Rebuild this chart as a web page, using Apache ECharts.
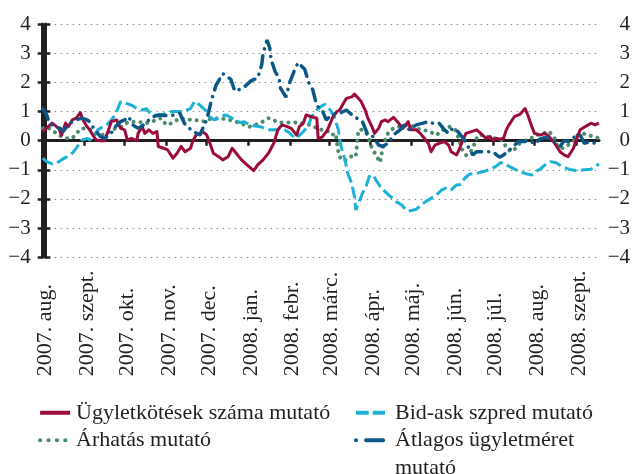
<!DOCTYPE html>
<html><head><meta charset="utf-8">
<script src="https://cdn.jsdelivr.net/npm/echarts@6/dist/echarts.min.js"></script>
<style>html,body{margin:0;padding:0;background:#fff}#c{width:633px;height:474px}</style>
</head><body><div id="c"></div>
<script>
// ---- data ----
const startDate = '2007-08-01';
const endDate = '2008-09-18';
const monthStarts = ['2007-08-01','2007-09-01','2007-10-01','2007-11-01','2007-12-01','2008-01-01','2008-02-01','2008-03-01','2008-04-01','2008-05-01','2008-06-01','2008-07-01','2008-08-01','2008-09-01'];
const monthLabels = ['2007. aug.','2007. szept.','2007. okt.','2007. nov.','2007. dec.','2008. jan.','2008. febr.','2008. márc.','2008. ápr.','2008. máj.','2008. jún.','2008. júl.','2008. aug.','2008. szept.'];
const seriesNames = ['Ügyletkötések száma mutató','Bid-ask szpred mutató','Árhatás mutató','Átlagos ügyletméret mutató'];

// day offsets from startDate and values
const tradesDays = [0,7,12,14,17,19,22,25,28,30,33,35,38,40,43,46,49,51,55,58,61,63,66,70,71,74,76,79,82,85,86,90,93,97,100,103,106,110,112,115,117,119,122,124,127,131,134,138,141,144,148,152,157,160,164,168,172,175,178,181,185,189,191,194,196,200,204,205,208,212,216,219,221,226,230,232,235,237,240,242,245,247,250,252,255,257,261,264,268,272,274,278,281,284,287,289,292,295,299,302,304,308,310,312,315,319,323,326,330,333,335,338,340,343,345,347,351,355,359,361,364,366,370,374,377,381,385,388,391,395,397,400,403,406,408,411,414];
const tradesValues = [0.31,0.6,0.42,0.19,0.6,0.48,0.71,0.77,0.96,0.71,0.48,0.37,0.14,0.02,0,0,0.37,0.65,0.71,0.42,0.37,0.02,0.08,0,0.25,0.48,0.25,0.37,0.25,0.31,-0.2,-0.26,-0.32,-0.6,-0.43,-0.2,-0.38,-0.26,0.02,0.25,0.2,0.31,0.2,-0.03,-0.43,-0.55,-0.66,-0.55,-0.26,-0.43,-0.66,-0.83,-1.03,-0.83,-0.66,-0.43,-0.09,0.37,0.54,0.5,0.42,0.19,0.48,0.6,0.88,0.82,0.77,0.08,0.12,0.37,0.82,1.0,1.05,1.45,1.5,1.6,1.45,1.34,1.05,0.77,0.48,0.25,0.42,0.65,0.71,0.65,0.8,0.65,0.42,0.65,0.37,0.37,0.25,0.08,-0.09,-0.38,-0.15,-0.09,-0.03,-0.15,-0.38,-0.49,-0.3,-0.05,0.25,0.31,0.37,0.25,0.08,0.14,0.02,0.08,0.05,0.08,0.37,0.54,0.82,0.9,1.1,0.88,0.48,0.25,0.19,0.25,0.14,-0.09,-0.38,-0.49,-0.55,-0.26,0.02,0.37,0.46,0.54,0.6,0.54,0.6];

const spreadDays = [0,3,7,10,14,18,22,25,29,33,35,38,41,45,49,54,58,62,66,70,74,77,81,85,88,92,96,100,105,110,113,117,121,124,128,132,136,139,143,147,150,154,158,162,165,169,173,177,180,184,188,190,194,198,200,204,207,210,214,217,220,222,225,227,230,232,233,236,238,241,243,246,248,252,256,259,263,267,271,274,278,282,285,289,293,297,300,304,308,311,314,318,323,328,333,337,341,345,350,355,360,364,367,371,375,378,382,386,390,393,398,403,408,411,414];
const spreadValues = [-0.6,-0.72,-0.8,-0.78,-0.66,-0.55,-0.43,-0.26,0.02,0.08,0.02,0.14,0.37,0.48,0.6,0.88,1.34,1.28,1.22,1.1,1.05,1.1,0.88,0.88,0.88,0.94,1.0,1.0,1.0,1.1,1.34,1.22,1.05,0.82,0.71,0.82,0.88,0.82,0.71,0.62,0.65,0.54,0.5,0.48,0.42,0.37,0.37,0.42,0.37,0.25,0.08,0.14,0.31,0.54,0.82,1.05,1.17,1.25,1.05,0.82,0.37,-0.2,-0.66,-1.12,-1.46,-1.92,-2.38,-2.03,-1.8,-1.52,-1.23,-1.18,-1.35,-1.63,-1.8,-1.92,-2.09,-2.2,-2.4,-2.4,-2.35,-2.2,-2.09,-1.98,-1.86,-1.69,-1.63,-1.69,-1.52,-1.5,-1.29,-1.14,-1.12,-1.06,-0.98,-0.89,-0.75,-0.83,-0.95,-1.06,-1.14,-1.18,-1.06,-0.95,-0.78,-0.72,-0.76,-0.87,-0.95,-1.0,-1.03,-1.0,-0.98,-0.89,-0.8];

const impactDays = [0,3,7,10,14,18,22,25,29,33,36,40,44,48,51,55,59,62,66,70,74,77,81,85,88,92,96,100,103,106,113,121,124,132,139,147,154,162,168,176,184,191,199,202,206,211,215,218,220,222,226,230,233,235,238,242,245,248,251,253,256,259,263,268,273,278,283,288,293,298,303,307,309,312,315,318,321,324,328,331,335,339,343,345,349,352,355,359,362,366,370,374,377,381,383,387,391,395,398,402,406,410,414];
const impactValues = [0.42,0.46,0.37,0.25,0.14,0.08,0.08,0.25,0.42,0.42,0.37,0.25,0.19,0.25,0.37,0.42,0.48,0.6,0.65,0.65,0.62,0.6,0.65,0.71,0.77,0.54,0.6,0.71,0.77,0.73,0.71,0.65,0.73,0.77,0.71,0.6,0.48,0.6,0.77,0.62,0.62,0.62,0.54,0.48,0.37,0.37,0.19,0.25,-0.38,-0.66,-0.66,-0.53,-0.55,0.37,0.37,0.19,-0.26,-0.49,-0.75,-0.26,0.19,0.37,0.46,0.5,0.54,0.42,0.37,0.31,0.19,0.37,0.48,0.37,0.14,-0.3,-0.5,-0.43,-0.15,0.19,0.19,0.14,0.08,0.08,-0.03,-0.26,-0.38,-0.26,-0.09,0,0.05,0.14,0.25,0.27,0.31,0.08,-0.2,-0.26,-0.15,-0.03,0.19,0.25,0.19,0.14,0.08];

const sizeDays = [0,3,5,9,13,15,18,22,25,29,33,35,38,40,43,46,50,54,58,61,64,67,71,75,79,82,87,95,102,106,112,117,122,126,129,134,140,143,149,155,160,163,164,167,169,170,173,176,177,181,184,187,190,195,198,201,204,208,211,215,219,222,226,232,238,242,246,250,253,257,261,266,269,273,278,283,287,292,295,299,302,305,309,313,318,320,323,329,335,340,343,349,354,359,362,366,370,374,377,380,385,388,392,396,400,403,407,411,414];
const sizeValues = [1.1,0.88,0.6,0.48,0.42,0.31,0.48,0.65,0.71,0.77,0.71,0.65,0.42,0.31,0.14,0.08,0.19,0.48,0.65,0.71,0.82,0.54,0.42,0.54,0.71,0.82,0.88,0.85,0.94,0.55,0.31,0.2,0.71,1.45,1.9,2.3,2.1,1.7,1.8,2.05,2.15,2.6,3.0,3.45,3.17,2.77,2.37,2.14,1.8,1.49,2.02,2.37,2.67,2.45,1.99,1.74,1.19,1.05,0.71,0.88,0.94,0.96,1.05,0.82,0.65,0.19,0.14,-0.15,-0.2,-0.09,0.19,0.37,0.54,0.37,0.54,0.6,0.65,0.57,0.6,0.37,0.25,0.42,0.31,0.08,-0.32,-0.49,-0.38,-0.38,-0.38,-0.57,-0.49,-0.26,-0.03,-0.03,0.02,-0.11,0.05,0.11,0.08,0,-0.2,0,-0.03,0.14,0.19,-0.09,-0.03,-0.09,-0.15];

const yMin = -4, yMax = 4, yStep = 1;

// ---- helpers ----
function dayIndex(s){ return Math.round((Date.parse(s) - Date.parse(startDate)) / 86400000); }
const monthDays = monthStarts.map(dayIndex);
const lastDay = dayIndex(endDate);
const labelShift = 2; // small visual nudge of the rotated month labels (days)
function pairs(d, v){ return d.map((x, i) => [x, v[i]]); }
function fmtY(v){ return v < 0 ? '\u2212' + Math.abs(v) : String(v); }

const FONT = 'Liberation Serif';
const INK = '#231f20';
const colors = ['#9b0b3b', '#1cb1d6', '#4a8c6c', '#0b5788'];

const chart = echarts.init(document.getElementById('c'), null, {renderer: 'canvas'});
const yAxisBase = {
  type: 'value', min: yMin, max: yMax, interval: yStep,
  axisLine: {show: true, lineStyle: {color: INK, width: 3}},
  axisTick: {show: true, length: 5, lineStyle: {color: INK, width: 2.5}},
  axisLabel: {fontFamily: FONT, fontSize: 21, color: INK, formatter: fmtY, align: 'right'},
};
const legendText = {fontFamily: FONT, fontSize: 22, color: INK, lineHeight: 27.5};
chart.setOption({
  animation: false,
  grid: {left: 42.7, right: 33.5, top: 24, bottom: 216.7, containLabel: false},
  xAxis: [{
    type: 'value', min: 0, max: lastDay,
    axisLine: {show: true, onZero: true, lineStyle: {color: INK, width: 3}},
    axisTick: {show: true, customValues: monthDays, length: 5, lineStyle: {color: INK, width: 2.5}},
    axisLabel: {show: false},
    splitLine: {show: false}
  }, {
    type: 'value', min: -labelShift, max: lastDay - labelShift, position: 'bottom',
    axisLine: {show: false, onZero: false}, axisTick: {show: false}, splitLine: {show: false},
    axisLabel: {
      show: true, customValues: monthDays, rotate: 90, margin: 119, align: 'left',
      fontFamily: FONT, fontSize: 22, color: INK,
      formatter: v => monthLabels[monthDays.indexOf(v)]
    }
  }],
  yAxis: [Object.assign({}, yAxisBase, {
    position: 'left',
    axisLabel: Object.assign({}, yAxisBase.axisLabel, {margin: 12}),
    splitLine: {show: true, lineStyle: {color: '#8a8a8a', width: 1, type: [1.5, 4.5]}}
  }), Object.assign({}, yAxisBase, {
    position: 'right',
    axisLabel: Object.assign({}, yAxisBase.axisLabel, {margin: 31}),
    splitLine: {show: false}
  })],
  legend: [{
    left: 38, top: 399, height: 150, padding: 0, orient: 'vertical', itemGap: 0, itemWidth: 30, itemHeight: 14,
    itemStyle: {opacity: 0}, lineStyle: {width: 4},
    textStyle: Object.assign({}, legendText, {padding: [0, 0, 0, 1]}),
    data: [
      {name: seriesNames[0]},
      {name: seriesNames[2], lineStyle: {type: [0.1, 8.3], cap: 'round', width: 4.2}}
    ]
  }, {
    left: 354, top: 399, height: 150, padding: 0, orient: 'vertical', itemGap: -27.5, itemWidth: 29, itemHeight: 14,
    itemStyle: {opacity: 0}, lineStyle: {width: 4},
    textStyle: Object.assign({}, legendText, {padding: [0, 0, 0, 5]}),
    formatter: n => n === seriesNames[3] ? '\nÁtlagos ügyletméret\nmutató' : n,
    data: [
      {name: seriesNames[1], lineStyle: {type: [12.7, 4], cap: 'butt'}},
      {name: seriesNames[3], lineStyle: {type: [0.1, 10, 17, 100], cap: 'round'}}
    ]
  }],
  series: [{
    name: seriesNames[0], type: 'line', data: pairs(tradesDays, tradesValues), z: 4,
    showSymbol: false, symbol: 'none', color: colors[0],
    lineStyle: {color: colors[0], width: 3, join: 'round'}
  }, {
    name: seriesNames[1], type: 'line', data: pairs(spreadDays, spreadValues), z: 3,
    showSymbol: false, symbol: 'none', color: colors[1],
    lineStyle: {color: colors[1], width: 3, type: [12, 4.5]}
  }, {
    name: seriesNames[2], type: 'line', data: pairs(impactDays, impactValues), z: 2,
    showSymbol: false, symbol: 'none', color: colors[2],
    lineStyle: {color: colors[2], width: 4, type: [0.1, 6.8], cap: 'round'}
  }, {
    name: seriesNames[3], type: 'line', data: pairs(sizeDays, sizeValues), z: 5,
    showSymbol: false, symbol: 'none', color: colors[3],
    lineStyle: {color: colors[3], width: 3.5, type: [12, 7, 0.1, 7], cap: 'round'}
  }]
});
</script></body></html>
